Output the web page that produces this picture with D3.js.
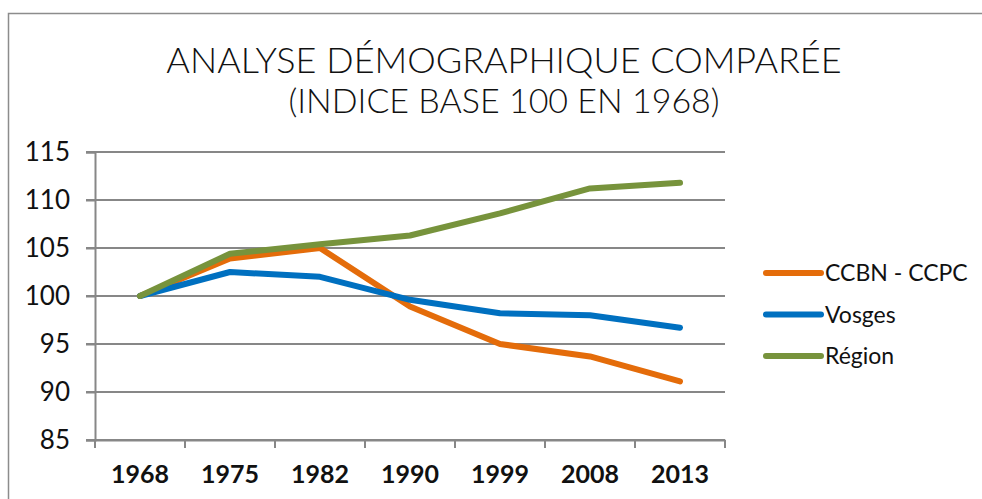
<!doctype html>
<html lang="fr">
<head>
  <meta charset="UTF-8">
  <title>Analyse démographique</title>
  <script src="https://cdn.jsdelivr.net/npm/d3@7"></script>
  <style>
    body { margin: 0; background: #fff; }
    text { font-family: "Lato", "Open Sans", sans-serif; fill: #111; }
  </style>
</head>
<body>
<div id="container"></div>
<script type="text/javascript">
var years = ['1968', '1975', '1982', '1990', '1999', '2008', '2013'];
var ccbn = [100, 103.9, 105.0, 98.9, 95.0, 93.7, 91.1];
var vosges = [100, 102.5, 102.0, 99.6, 98.2, 98.0, 96.7];
var region = [100, 104.4, 105.4, 106.3, 108.6, 111.2, 111.8];
var yTicks = [85, 90, 95, 100, 105, 110, 115];
var seriesNames = ['CCBN - CCPC', 'Vosges', 'Région'];
var seriesColors = ['#E46C0A', '#0070C0', '#77933C'];
var titleLines = ['ANALYSE DÉMOGRAPHIQUE COMPARÉE', '(INDICE BASE 100 EN 1968)'];

var series = [ccbn, vosges, region];

var width = 982, height = 499;
var svg = d3.select('#container').append('svg')
  .attr('width', width)
  .attr('height', height);

// outer chart frame
svg.append('rect')
  .attr('x', 8.5).attr('y', 13.5)
  .attr('width', 1000).attr('height', 600)
  .attr('fill', 'none')
  .attr('stroke', '#8c8c8c')
  .attr('stroke-width', 1.5);

// title
svg.selectAll('.title').data(titleLines).enter()
  .append('text')
  .attr('class', 'title')
  .attr('x', 504)
  .attr('y', function(d, i) { return 73 + i * 40; })
  .attr('text-anchor', 'middle')
  .style('font-size', function(d, i) { return i == 0 ? '36px' : '34px'; })
  .style('font-weight', 300)
  .text(function(d) { return d; });

var x = d3.scaleBand().domain(years).range([95, 725]);
var y = d3.scaleLinear().domain([85, 115]).range([440, 152]);

// gridlines
svg.selectAll('.grid').data(yTicks).enter()
  .append('line')
  .attr('class', 'grid')
  .attr('x1', 86).attr('x2', 725)
  .attr('y1', function(d) { return y(d); })
  .attr('y2', function(d) { return y(d); })
  .attr('stroke', '#878787')
  .attr('stroke-width', 2);

// y axis
var yAxis = svg.append('g')
  .attr('transform', 'translate(95,0)')
  .call(d3.axisLeft(y).tickValues(yTicks).tickSize(9).tickPadding(16));
yAxis.select('.domain').attr('stroke', '#878787').attr('stroke-width', 2);
yAxis.selectAll('.tick line').attr('stroke', '#878787').attr('stroke-width', 2);
yAxis.selectAll('text')
  .style('font-size', '26px')
  .attr('fill', '#111');

// x axis
var xAxis = svg.append('g')
  .attr('transform', 'translate(0,440)')
  .call(d3.axisBottom(x).tickSize(0).tickPadding(25));
xAxis.select('.domain').attr('stroke', '#878787').attr('stroke-width', 2);
xAxis.selectAll('text')
  .style('font-size', '25px')
  .style('font-weight', 'bold')
  .attr('fill', '#111');
// tick marks between categories
var boundaries = years.map(function(d) { return x(d); }).concat([x.range()[1]]);
xAxis.selectAll('.bound').data(boundaries).enter()
  .append('line')
  .attr('class', 'bound')
  .attr('x1', function(d) { return d; })
  .attr('x2', function(d) { return d; })
  .attr('y1', 0).attr('y2', 8)
  .attr('stroke', '#878787')
  .attr('stroke-width', 2);

// lines
var line = d3.line()
  .x(function(d, i) { return x(years[i]) + x.bandwidth() / 2; })
  .y(function(d) { return y(d); });

svg.selectAll('.series').data(series).enter()
  .append('path')
  .attr('class', 'series')
  .attr('d', function(d) { return line(d); })
  .attr('fill', 'none')
  .attr('stroke', function(d, i) { return seriesColors[i]; })
  .attr('stroke-width', 6)
  .attr('stroke-linecap', 'round')
  .attr('stroke-linejoin', 'round');

// legend
var legend = svg.selectAll('.legend').data(seriesNames).enter()
  .append('g')
  .attr('class', 'legend')
  .attr('transform', function(d, i) { return 'translate(766,' + (273 + i * 41.5) + ')'; });
legend.append('line')
  .attr('x1', 0).attr('x2', 55)
  .attr('y1', 0).attr('y2', 0)
  .attr('stroke', function(d, i) { return seriesColors[i]; })
  .attr('stroke-width', 6)
  .attr('stroke-linecap', 'round');
legend.append('text')
  .attr('x', 59)
  .attr('y', 0)
  .attr('dy', '0.35em')
  .style('font-size', '23px')
  .text(function(d) { return d; });
</script>
</body>
</html>
